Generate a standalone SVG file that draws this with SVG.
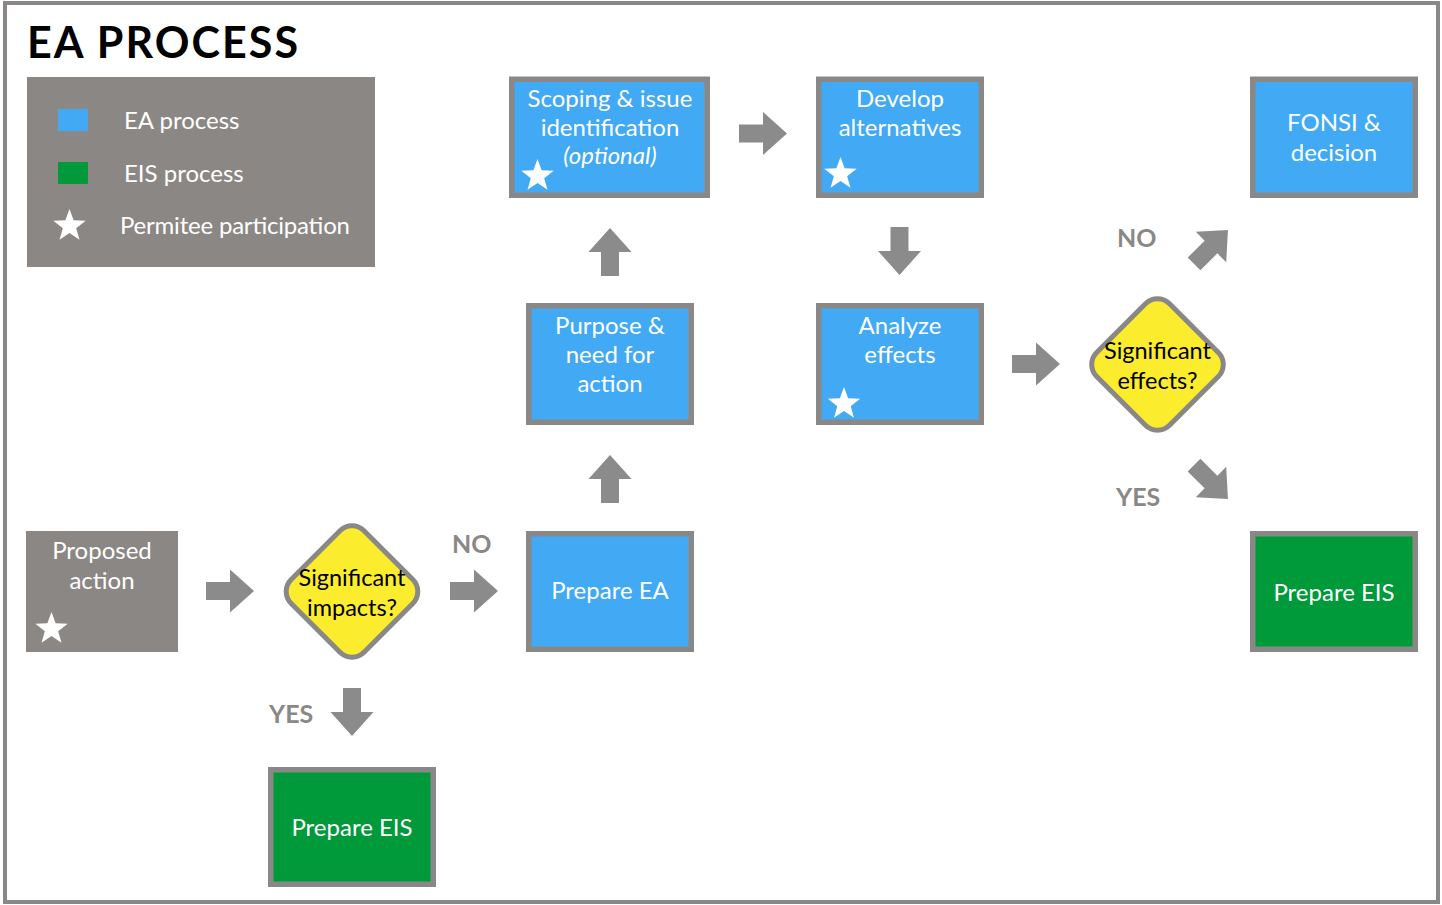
<svg xmlns="http://www.w3.org/2000/svg" width="1442" height="905" viewBox="0 0 1442 905">
<style>
.frame{fill:#fff;stroke:#8a8886;stroke-width:4}
.box{stroke:#8a8886;stroke-width:5.5}
.blue{fill:#42a9f5}
.green{fill:#009a3a}
.grayfill{fill:#8b8784}
.dia{fill:#fbed2d;stroke:#8a8886;stroke-width:5}
.t{font-family:Lato,"Open Sans",sans-serif;font-size:24px;fill:#fff;text-anchor:middle}
.tl{font-family:Lato,"Open Sans",sans-serif;font-size:24px;fill:#fff}
.td{font-family:Lato,"Open Sans",sans-serif;font-size:23.5px;fill:#000;text-anchor:middle}
.lab{font-family:Lato,"Open Sans",sans-serif;font-size:25px;font-weight:bold;fill:#8a8886}
.arrow{fill:#8b8b8b}
.star{fill:#fff}
</style>
<defs>
<path id="arr" d="M-24,-9 H0 V-21.5 L24,0 L0,21.5 V9 H-24 Z"/>
<path id="star" d="M0,-17 L4.11,-5.66 L16.17,-5.25 L6.66,2.16 L9.99,13.75 L0,7 L-9.99,13.75 L-6.66,2.16 L-16.17,-5.25 L-4.11,-5.66 Z"/>
<rect id="diamond" x="-51.5" y="-51.5" width="103" height="103" rx="17" ry="17"/>
</defs>
<rect class="frame" x="5" y="3" width="1433" height="899"/>
<text x="27" y="58" font-family="Lato,'Open Sans',sans-serif" font-size="43" font-weight="bold" fill="#000" textLength="271" lengthAdjust="spacing">EA PROCESS</text>

<g id="legend">
<rect class="grayfill" x="27" y="77" width="348" height="190"/>
<rect class="blue" x="58" y="109" width="30" height="22"/>
<rect class="green" x="58" y="162" width="30" height="22"/>
<use href="#star" class="star" x="69.5" y="226"/>
<text class="tl" x="124" y="129">EA process</text>
<text class="tl" x="124" y="182">EIS process</text>
<text class="tl" x="120" y="234" textLength="230" lengthAdjust="spacing">Permitee participation</text>
</g>

<g id="proposed">
<rect class="grayfill" x="26" y="531" width="152" height="121"/>
<text class="t" x="102" y="559">Proposed</text>
<text class="t" x="102" y="589">action</text>
<use href="#star" class="star" x="51.5" y="629"/>
</g>

<g id="sig-impacts">
<use href="#diamond" class="dia" transform="translate(352,591.5) rotate(45)"/>
<text class="td" x="352" y="586">Significant</text>
<text class="td" x="352" y="616">impacts?</text>
</g>

<g id="prepare-eis-bottom">
<rect class="box green" x="270.75" y="769.75" width="162.5" height="114.5"/>
<text class="t" x="352" y="836">Prepare EIS</text>
</g>

<g id="prepare-ea">
<rect class="box blue" x="528.75" y="533.75" width="162.5" height="115.5"/>
<text class="t" x="610" y="599">Prepare EA</text>
</g>

<g id="purpose">
<rect class="box blue" x="528.75" y="305.75" width="162.5" height="116.5"/>
<text class="t" x="610" y="334">Purpose &amp;</text>
<text class="t" x="610" y="363">need for</text>
<text class="t" x="610" y="392">action</text>
</g>

<g id="scoping">
<rect class="box blue" x="511.75" y="79.25" width="195.5" height="116"/>
<text class="t" x="610" y="107">Scoping &amp; issue</text>
<text class="t" x="610" y="136">identification</text>
<text class="t" x="610" y="164" font-size="21" font-style="italic">(optional)</text>
<use href="#star" class="star" x="537.5" y="176"/>
</g>

<g id="develop">
<rect class="box blue" x="818.75" y="79.25" width="162.5" height="116"/>
<text class="t" x="900" y="107">Develop</text>
<text class="t" x="900" y="136">alternatives</text>
<use href="#star" class="star" x="840.5" y="174"/>
</g>

<g id="analyze">
<rect class="box blue" x="818.75" y="305.75" width="162.5" height="116.5"/>
<text class="t" x="900" y="334">Analyze</text>
<text class="t" x="900" y="363">effects</text>
<use href="#star" class="star" x="844" y="404"/>
</g>

<g id="sig-effects">
<use href="#diamond" class="dia" transform="translate(1157.5,364.5) rotate(45)"/>
<text class="td" x="1157.5" y="359">Significant</text>
<text class="td" x="1157.5" y="389">effects?</text>
</g>

<g id="fonsi">
<rect class="box blue" x="1252.75" y="79.25" width="162.5" height="116"/>
<text class="t" x="1334" y="131">FONSI &amp;</text>
<text class="t" x="1334" y="161">decision</text>
</g>

<g id="prepare-eis-right">
<rect class="box green" x="1252.75" y="533.75" width="162.5" height="115.5"/>
<text class="t" x="1334" y="601">Prepare EIS</text>
</g>

<g id="connectors">
<use href="#arr" class="arrow" transform="translate(230,591)"/>
<use href="#arr" class="arrow" transform="translate(474,591)"/>
<use href="#arr" class="arrow" transform="translate(610,479) rotate(-90)"/>
<use href="#arr" class="arrow" transform="translate(610,252) rotate(-90)"/>
<use href="#arr" class="arrow" transform="translate(763,133.5)"/>
<use href="#arr" class="arrow" transform="translate(899.5,251) rotate(90)"/>
<use href="#arr" class="arrow" transform="translate(1036,364)"/>
<use href="#arr" class="arrow" transform="translate(1211,247) rotate(-45)"/>
<use href="#arr" class="arrow" transform="translate(1211,482) rotate(45)"/>
<use href="#arr" class="arrow" transform="translate(352,712) rotate(90)"/>
<text class="lab" x="452" y="553">NO</text>
<text class="lab" x="269" y="723">YES</text>
<text class="lab" x="1117" y="247">NO</text>
<text class="lab" x="1116" y="506">YES</text>
</g>
</svg>
